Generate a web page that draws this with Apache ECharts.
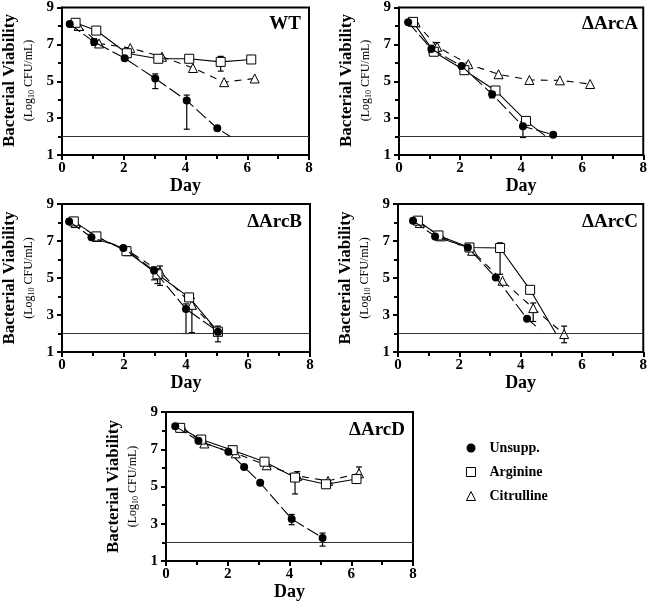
<!DOCTYPE html>
<html><head><meta charset="utf-8">
<script src="https://cdn.jsdelivr.net/npm/echarts@6/dist/echarts.min.js"></script>
<style>html,body{margin:0;padding:0;background:#fff}#c{width:650px;height:602px}</style>
</head><body><div id="c"></div>
<script>
// ---- data (day, log10 CFU/mL) ----
const panelNames = ['WT', 'ΔArcA', 'ΔArcB', 'ΔArcC', 'ΔArcD'];
const seriesNames = ['Unsupp.', 'Arginine', 'Citrulline'];
const xTicks = [0, 2, 4, 6, 8];
const yTicks = [1, 3, 5, 7, 9];
const detectionLimit = 2;

const wtUnsupp = [[0.25,8.1],[1.04,7.13],[2.03,6.25],[3.02,5.15],[4.04,3.95],[5.03,2.45]];
const wtUnsuppTail = [[5.45,2.0]];
const wtArg = [[0.44,8.17],[1.11,7.75],[2.1,6.52],[3.12,6.22],[4.12,6.22],[5.14,6.05],[6.13,6.18]];
const wtCit = [[0.54,8.0],[1.2,7.05],[2.21,6.8],[3.24,6.33],[4.24,5.72],[5.25,4.95],[6.24,5.15]];
const wtUnsuppErr = [[1.04,6.95,7.3],[3.02,4.6,5.4],[4.04,2.4,4.25]];
const wtArgErr = [[5.14,5.55,6.35]];
const wtCitErr = [];

const arcAUnsupp = [[0.3,8.2],[1.06,6.75],[2.05,5.83],[3.05,4.3],[4.06,2.56],[5.05,2.1]];
const arcAArg = [[0.46,8.22],[1.14,6.6],[2.14,5.6],[3.16,4.5],[4.16,2.85]];
const arcAArgTail = [[4.78,2.05]];
const arcACit = [[0.54,8.2],[1.25,6.87],[2.27,5.93],[3.26,5.38],[4.27,5.07],[5.27,5.05],[6.26,4.85]];
const arcAUnsuppErr = [[1.06,6.55,6.95],[3.05,4.1,4.5],[4.06,1.95,2.8]];
const arcAArgErr = [[4.16,2.6,3.0]];
const arcACitErr = [[1.25,6.6,7.1]];

const arcBUnsupp = [[0.23,8.06],[0.95,7.2],[1.98,6.62],[2.97,5.4],[4.0,3.33],[5.03,2.1]];
const arcBArg = [[0.38,8.06],[1.11,7.25],[2.08,6.45],[3.08,5.2],[4.1,3.95],[5.03,2.1]];
const arcBCit = [[0.44,7.97],[1.13,7.22],[2.16,6.45],[3.16,5.35],[4.19,3.55],[5.03,2.1]];
const arcBUnsuppErr = [[2.97,4.9,5.6],[4.0,2.0,3.6],[5.03,1.55,2.4]];
const arcBArgErr = [[3.08,4.7,5.5]];
const arcBCitErr = [[3.16,4.6,5.65],[4.19,2.05,3.9]];

const arcCUnsupp = [[0.49,8.1],[1.21,7.25],[2.28,6.65],[3.19,5.03],[4.21,2.8]];
const arcCUnsuppTail = [[4.6,2.25]];
const arcCArg = [[0.65,8.1],[1.32,7.3],[2.33,6.65],[3.33,6.62],[4.31,4.36]];
const arcCArgTail = [[5.15,2.0]];
const arcCCit = [[0.71,7.97],[1.4,7.25],[2.42,6.47],[3.41,4.85],[4.41,3.37],[5.42,1.97]];
const arcCUnsuppErr = [];
const arcCArgErr = [[3.33,5.2,6.9]];
const arcCCitErr = [[4.41,2.65,3.65],[5.42,1.5,2.4]];

const arcDUnsupp = [[0.3,8.24],[1.05,7.45],[2.02,6.87],[2.53,6.05],[3.05,5.2],[4.07,3.26],[5.07,2.24]];
const arcDArg = [[0.46,8.15],[1.14,7.52],[2.16,6.95],[3.19,6.33],[4.18,5.48],[5.18,5.12],[6.17,5.4]];
const arcDCit = [[0.54,8.15],[1.24,7.31],[2.26,6.78],[3.26,6.14],[4.25,5.57],[5.25,5.3],[6.25,5.71]];
const arcDUnsuppErr = [[4.07,2.95,3.5],[5.07,1.8,2.5]];
const arcDArgErr = [[4.18,4.6,5.7],[5.18,4.95,5.25],[6.17,5.25,5.55]];
const arcDCitErr = [[3.26,5.95,6.3],[4.25,5.35,5.8],[6.25,5.5,6.05]];

const panels = [
  {unsupp: wtUnsupp, unsuppTail: wtUnsuppTail, arg: wtArg, argTail: [], cit: wtCit, err: [wtUnsuppErr, wtArgErr, wtCitErr]},
  {unsupp: arcAUnsupp, unsuppTail: [], arg: arcAArg, argTail: arcAArgTail, cit: arcACit, err: [arcAUnsuppErr, arcAArgErr, arcACitErr]},
  {unsupp: arcBUnsupp, unsuppTail: [], arg: arcBArg, argTail: [], cit: arcBCit, err: [arcBUnsuppErr, arcBArgErr, arcBCitErr]},
  {unsupp: arcCUnsupp, unsuppTail: arcCUnsuppTail, arg: arcCArg, argTail: arcCArgTail, cit: arcCCit, err: [arcCUnsuppErr, arcCArgErr, arcCCitErr]},
  {unsupp: arcDUnsupp, unsuppTail: [], arg: arcDArg, argTail: [], cit: arcDCit, err: [arcDUnsuppErr, arcDArgErr, arcDCitErr]}
];

// ---- layout ----
const grids = [
  {left: 62, top: 6, width: 247, height: 149},
  {left: 399, top: 6, width: 247, height: 149},
  {left: 62, top: 204, width: 248, height: 148},
  {left: 398, top: 204, width: 248, height: 148},
  {left: 166, top: 412, width: 247, height: 149}
];
const FONT = 'Liberation Serif';
const ink = '#000';

const option = {
  animation: false,
  backgroundColor: '#fff',
  grid: grids.map(g => Object.assign({show: true, borderColor: ink, borderWidth: 2, backgroundColor: 'transparent'}, g)),
  xAxis: grids.map((g, i) => ({
    type: 'value', gridIndex: i, min: xTicks[0], max: xTicks[xTicks.length - 1], interval: 2,
    axisLine: {show: true, onZero: false, lineStyle: {color: ink, width: 2}},
    axisTick: {show: true, length: 5, lineStyle: {color: ink, width: 2}},
    minorTick: {show: true, splitNumber: 2, length: 4, lineStyle: {color: ink, width: 2}},
    splitLine: {show: false},
    axisLabel: {color: ink, fontFamily: FONT, fontWeight: 'bold', fontSize: 15, margin: 6},
    name: 'Day', nameLocation: 'middle', nameGap: 20,
    nameTextStyle: {color: ink, fontFamily: FONT, fontWeight: 'bold', fontSize: 18}
  })),
  yAxis: grids.map((g, i) => ({
    type: 'value', gridIndex: i, min: yTicks[0], max: yTicks[yTicks.length - 1], interval: 2,
    axisLine: {show: true, onZero: false, lineStyle: {color: ink, width: 2}},
    axisTick: {show: true, length: 5, lineStyle: {color: ink, width: 2}},
    minorTick: {show: true, splitNumber: 2, length: 4, lineStyle: {color: ink, width: 2}},
    splitLine: {show: false},
    axisLabel: {color: ink, fontFamily: FONT, fontWeight: 'bold', fontSize: 15, margin: 8}
  })),
  legend: {
    orient: 'vertical', left: 461, top: 435, itemWidth: 9, itemHeight: 9, itemGap: 8,
    textStyle: {color: ink, fontFamily: FONT, fontWeight: 'bold', fontSize: 14, lineHeight: 16, padding: [0, 0, 0, 9]},
    data: [
      {name: seriesNames[0], icon: 'circle', itemStyle: {color: ink, borderWidth: 0}},
      {name: seriesNames[1], icon: 'rect', itemStyle: {color: '#fff', borderColor: ink, borderWidth: 1}},
      {name: seriesNames[2], icon: 'triangle', itemStyle: {color: '#fff', borderColor: ink, borderWidth: 1}}
    ]
  },
  graphic: [],
  series: []
};

const styles = [
  {symbol: 'circle', size: 8, fill: ink, dash: [13, 4]},
  {symbol: 'rect', size: 9, fill: '#fff', dash: 'solid'},
  {symbol: 'triangle', size: 9, fill: '#fff', dash: [7, 6]}
];

function withTail(points, tail) {
  return points.map(p => p.slice()).concat(tail.map(p => ({value: p.slice(), symbol: 'none'})));
}

panels.forEach((p, i) => {
  const lines = [withTail(p.unsupp, p.unsuppTail), withTail(p.arg, p.argTail), withTail(p.cit, [])];
  // error bars
  [0, 1, 2].forEach(k => {
    if (!p.err[k].length) return;
    option.series.push({
      type: 'custom', name: seriesNames[k], xAxisIndex: i, yAxisIndex: i, z: 1,
      data: p.err[k],
      encode: {x: 0, y: [1, 2]},
      renderItem: function (params, api) {
        const x = api.value(0), lo = api.value(1), hi = api.value(2);
        const a = api.coord([x, lo]), b = api.coord([x, hi]);
        const w = 3;
        const st = {stroke: ink, lineWidth: 1.2};
        return {type: 'group', children: [
          {type: 'line', shape: {x1: a[0], y1: a[1], x2: b[0], y2: b[1]}, style: st},
          {type: 'line', shape: {x1: a[0] - w, y1: a[1], x2: a[0] + w, y2: a[1]}, style: st},
          {type: 'line', shape: {x1: b[0] - w, y1: b[1], x2: b[0] + w, y2: b[1]}, style: st}
        ]};
      }
    });
  });
  // lines, draw citrulline first so circles sit on top
  [2, 1, 0].forEach(k => {
    const s = styles[k];
    const ser = {
      type: 'line', name: seriesNames[k], xAxisIndex: i, yAxisIndex: i, z: 3 + (2 - k),
      data: lines[k], symbol: s.symbol, symbolSize: s.size, showSymbol: true, showAllSymbol: true,
      itemStyle: {color: s.fill, borderColor: ink, borderWidth: k === 0 ? 0 : 1},
      lineStyle: {color: ink, width: 1.1, type: s.dash},
      emphasis: {disabled: true}
    };
    if (k === 0) {
      ser.markLine = {
        silent: true, symbol: ['none', 'none'], label: {show: false},
        lineStyle: {color: '#333', width: 1.2, type: 'solid'},
        data: [{yAxis: detectionLimit}]
      };
    }
    option.series.push(ser);
  });

  const g = grids[i];
  // panel title
  option.graphic.push({
    type: 'text', x: g.left + g.width - 8, y: g.top + 18,
    style: {text: panelNames[i], fill: ink, font: 'bold 19px "Liberation Serif"', align: 'right', verticalAlign: 'middle'}
  });
  // y axis titles
  const cy = g.top + g.height / 2;
  option.graphic.push({
    type: 'text', x: g.left - 52, y: cy, rotation: Math.PI / 2,
    style: {text: 'Bacterial Viability', fill: ink, font: 'bold 17px "Liberation Serif"', align: 'center', verticalAlign: 'middle'}
  });
  option.graphic.push({
    type: 'text', x: g.left - 33, y: cy, rotation: Math.PI / 2,
    style: {
      text: '{b|(Log}{s|10}{b| CFU/mL)}', align: 'center', verticalAlign: 'middle',
      rich: {
        b: {fill: ink, fontFamily: FONT, fontSize: 12, lineHeight: 14},
        s: {fill: ink, fontFamily: FONT, fontSize: 8, lineHeight: 14, verticalAlign: 'bottom'}
      }
    }
  });
});

const chart = echarts.init(document.getElementById('c'), null, {renderer: 'canvas'});
chart.setOption(option);
</script>
</body></html>
